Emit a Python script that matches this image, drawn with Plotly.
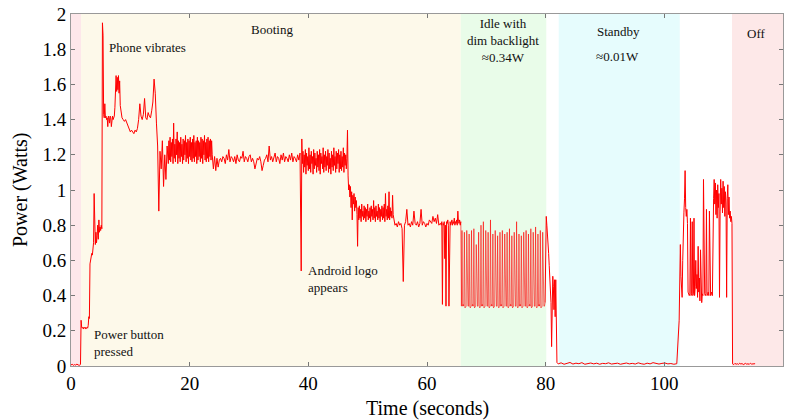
import numpy as np
import plotly.graph_objects as go

# ---------------------------------------------------------------------------
# Power trace of a phone going through a boot / idle / standby / off cycle.
# Each phase is logged on its own uniform grid: (start s, spacing s, watts)
# ---------------------------------------------------------------------------
off_before = [0.006, 0.010, 0.004, 0.008, 0.005, 0.011, 0.006, 0.004, 0.009]

power_button = [0.26, 0.22, 0.215, 0.22, 0.21, 0.22, 0.215, 0.22, 0.21, 0.22,
                0.22, 0.215, 0.23, 0.28, 0.27, 0.58, 0.60, 0.61, 0.64, 0.63,
                0.68, 0.70, 0.98, 0.72, 0.69, 0.76, 0.70, 0.74, 0.80, 0.72,
                0.83, 0.76, 0.79, 0.77, 0.80, 0.78]

vibrate = [1.95, 1.88, 1.43, 1.41, 1.49, 1.41, 1.42, 1.40, 1.41, 1.36,
           1.42, 1.41, 1.38, 1.42, 1.41, 1.36, 1.41, 1.42, 1.40, 1.41,
           1.42, 1.47, 1.58, 1.65, 1.56, 1.64, 1.57, 1.65, 1.55, 1.62,
           1.48, 1.45]

early_boot = [1.41, 1.40, 1.39, 1.40, 1.38, 1.37, 1.34, 1.33, 1.34, 1.33,
              1.32, 1.34, 1.33, 1.35, 1.40, 1.49, 1.42, 1.40, 1.43, 1.52,
              1.41, 1.40, 1.44, 1.42, 1.41, 1.45, 1.50, 1.63, 1.55, 1.38,
              1.25, 0.88, 1.22, 1.12, 1.28, 1.02, 1.20, 1.06, 1.25, 1.15]

boot_band = [1.28, 1.17, 1.30, 1.16, 1.27, 1.19, 1.29, 1.15, 1.38, 1.18,
             1.26, 1.16, 1.29, 1.20, 1.33, 1.15, 1.28, 1.18, 1.27, 1.16,
             1.30, 1.19, 1.26, 1.15, 1.29, 1.17, 1.28, 1.20, 1.31, 1.16,
             1.27, 1.18, 1.29, 1.15, 1.28, 1.19, 1.30, 1.17, 1.27, 1.16,
             1.29, 1.18, 1.31, 1.16, 1.27, 1.19, 1.28, 1.15, 1.30, 1.17,
             1.28, 1.19, 1.27, 1.16, 1.30, 1.18, 1.29, 1.15, 1.28, 1.20,
             1.31, 1.17, 1.27, 1.16, 1.29, 1.18, 1.30, 1.16, 1.28, 1.19,
             1.29, 1.17, 1.28]

settle = [1.20, 1.12, 1.19, 1.11, 1.18, 1.13, 1.17,
          1.18, 1.16, 1.19, 1.18, 1.15, 1.20, 1.17, 1.23, 1.16, 1.19,
          1.18, 1.16, 1.19, 1.15, 1.20, 1.17, 1.16, 1.19, 1.18, 1.22,
          1.16, 1.19, 1.18, 1.16, 1.19, 1.20, 1.16, 1.18,
          1.16, 1.12, 1.15, 1.18, 1.17, 1.19, 1.16, 1.11, 1.14, 1.17,
          1.18, 1.20, 1.16, 1.25, 1.17, 1.19, 1.16, 1.18, 1.21, 1.16,
          1.19, 1.18, 1.15, 1.20, 1.17, 1.21, 1.16, 1.19, 1.18, 1.16,
          1.20, 1.17, 1.21, 1.16, 1.19, 1.18, 1.16, 1.20, 1.17, 1.21]

logo = [0.54, 1.29,
        1.15, 1.22, 1.10, 1.20, 1.13, 1.23, 1.09, 1.21, 1.14, 1.19,
        1.11, 1.24, 1.12, 1.20, 1.10, 1.22, 1.15, 1.19, 1.09, 1.23,
        1.12, 1.21, 1.14, 1.18, 1.10, 1.22, 1.13, 1.20, 1.11, 1.23,
        1.09, 1.21, 1.15, 1.19, 1.12, 1.24, 1.10, 1.20, 1.13, 1.22,
        1.11, 1.19, 1.14, 1.23, 1.10, 1.21, 1.12, 1.18, 1.09, 1.22,
        1.13, 1.20, 1.11, 1.24, 1.14, 1.19, 1.10, 1.22, 1.12, 1.21,
        1.15, 1.23, 1.10, 1.20, 1.12, 1.22, 1.11, 1.19, 1.13, 1.24,
        1.10, 1.21, 1.14, 1.20, 1.12, 1.18, 1.34]

boot_step = [1.08, 1.00, 1.03, 0.96, 1.02, 0.90, 0.99, 0.83, 0.97, 0.92,
             0.98, 0.88, 0.96, 0.90, 0.94, 0.86, 0.68]

boot_mid = [0.90, 0.83, 0.91, 0.84, 0.89, 0.82, 0.92, 0.85, 0.88, 0.83,
            0.91, 0.84, 0.90, 0.82, 0.89, 0.85, 0.92, 0.83, 0.88, 0.84,
            0.90, 0.82, 0.91, 0.85, 0.89, 0.83, 0.94, 0.84, 0.90, 0.82,
            0.91, 0.85, 0.88, 0.83, 0.92, 0.84, 0.90, 0.82, 0.89, 0.85,
            0.91, 0.83, 0.90, 0.84, 0.92, 0.82, 0.98, 0.85, 0.89, 0.83,
            0.91, 0.84, 0.99, 0.83, 0.90, 0.85, 0.88, 0.84, 0.97, 0.86]

boot_late = [0.83, 0.80, 0.81, 0.79, 0.82, 0.80, 0.81, 0.78, 0.48, 0.80,
             0.82, 0.89, 0.80, 0.81, 0.79, 0.82, 0.80, 0.88, 0.81, 0.80,
             0.82, 0.79, 0.81, 0.89, 0.80, 0.82, 0.81, 0.79, 0.81, 0.80,
             0.83, 0.82, 0.81, 0.85, 0.82, 0.84, 0.81, 0.86, 0.80, 0.81]

pre_idle = [0.81, 0.80, 0.82, 0.35, 0.81, 0.80, 0.82, 0.61, 0.80, 0.34,
            0.82, 0.81, 0.83, 0.80, 0.34, 0.81, 0.82, 0.80, 0.81, 0.83,
            0.80, 0.82, 0.81, 0.84, 0.80, 0.82, 0.81, 0.83, 0.80, 0.88,
            0.82, 0.81, 0.83, 0.80, 0.82]

idle = [0.34, 0.77, 0.34, 0.35, 0.34, 0.76, 0.33, 0.34,
        0.34, 0.77, 0.35, 0.34, 0.34, 0.75, 0.34, 0.33,
        0.34, 0.77, 0.34, 0.35, 0.34, 0.78, 0.33, 0.34,
        0.34, 0.69, 0.35, 0.34, 0.34, 0.76, 0.34, 0.33,
        0.34, 0.80, 0.34, 0.35, 0.34, 0.82, 0.33, 0.34,
        0.34, 0.77, 0.35, 0.34, 0.34, 0.76, 0.34, 0.33,
        0.34, 0.83, 0.34, 0.35, 0.34, 0.75, 0.33, 0.34,
        0.34, 0.77, 0.35, 0.34, 0.34, 0.74, 0.34, 0.33,
        0.34, 0.76, 0.34, 0.35, 0.34, 0.77, 0.33, 0.34,
        0.34, 0.75, 0.35, 0.34, 0.34, 0.76, 0.34, 0.33,
        0.34, 0.78, 0.34, 0.35, 0.34, 0.74, 0.33, 0.34,
        0.34, 0.76, 0.35, 0.34, 0.34, 0.82, 0.34, 0.33,
        0.34, 0.75, 0.34, 0.35, 0.34, 0.74, 0.33, 0.34,
        0.34, 0.76, 0.35, 0.34, 0.34, 0.77, 0.34, 0.33,
        0.34, 0.75, 0.34, 0.35, 0.34, 0.78, 0.33, 0.34,
        0.34, 0.76, 0.35, 0.34, 0.34, 0.79, 0.34, 0.33,
        0.34, 0.75, 0.34, 0.35, 0.34, 0.77, 0.33, 0.34,
        0.34, 0.76, 0.35, 0.34, 0.34]

wind_down = [0.36, 0.74, 0.85, 0.80, 0.76, 0.70, 0.64, 0.57, 0.50, 0.42,
             0.36, 0.11, 0.42, 0.51, 0.45, 0.32, 0.49, 0.28, 0.49, 0.12,
             0.02, 0.015]

standby = [0.012, 0.018, 0.010, 0.015, 0.020, 0.011, 0.016, 0.013, 0.019,
           0.010, 0.014, 0.017, 0.012, 0.016, 0.010, 0.015, 0.013, 0.018,
           0.011, 0.014, 0.016, 0.010, 0.013, 0.017, 0.012, 0.015, 0.011,
           0.018, 0.013, 0.010, 0.016, 0.012, 0.019, 0.014, 0.011, 0.015,
           0.017, 0.012, 0.014, 0.010, 0.013]

wake = [0.26, 0.45, 0.69, 0.51, 0.42, 0.39, 0.60, 0.82, 0.87, 0.95,
        1.11, 0.90, 0.85, 0.89, 0.81, 0.42, 0.41, 0.40, 0.41, 0.84,
        0.40, 0.41, 0.82, 0.40, 0.41, 0.84, 0.40, 0.45, 0.60, 0.44,
        0.52, 0.39, 0.68, 0.42, 0.50, 0.37, 0.66, 0.45, 0.36, 0.41,
        0.40, 1.06, 0.42, 0.41, 0.40, 0.41, 0.89, 0.40, 0.41, 0.42,
        0.40, 0.88, 0.41, 0.40, 0.41, 0.42, 0.40, 0.81, 0.95, 1.06,
        0.92, 1.04, 0.86, 1.00, 0.84, 1.03, 0.90, 0.98, 0.39, 0.88,
        1.06, 0.92, 1.01, 0.87, 1.05, 0.90, 1.02, 0.85, 0.99, 0.92,
        0.39, 0.95, 1.03, 0.86, 0.96, 0.84, 0.88, 0.82, 0.85, 0.81]

off_after = [0.012, 0.008, 0.015, 0.010, 0.013, 0.009, 0.016, 0.011, 0.014,
             0.008, 0.012, 0.015, 0.010, 0.013, 0.009, 0.016, 0.011, 0.012,
             0.010, 0.013]

segments = [
    (0.0, 0.2, off_before),
    (1.7, 0.1, power_button),
    (5.3, 0.1, vibrate),
    (8.6, 0.2, early_boot),
    (16.5, 0.1, boot_band),
    (23.8, 0.2, settle),
    (38.8, 0.1, logo),
    (46.7, 0.1, boot_step),
    (48.4, 0.1, boot_mid),
    (54.4, 0.2, boot_late),
    (62.3, 0.1, pre_idle),
    (65.8, 0.1, idle),
    (79.9, 0.1, wind_down),
    (82.1, 0.5, standby),
    (102.5, 0.1, wake),
    (111.5, 0.2, off_after),
]

# Phase spans along the time axis (seconds)
phase_start = [0.0, 1.7, 65.7, 82.2, 111.4]
phase_end = [1.7, 65.7, 80.1, 102.6, 120.0]
phase_fill = ["#fde7ea", "#fdf9ea", "#e9fce9", "#e6fcfd", "#fde8e8"]

FONT = "Liberation Serif, Times New Roman, serif"
RED = "#ff0000"

# Assemble the trace. The idle burst pattern (very short pulses) is drawn
# with a finer pen, so the main line breaks around it and the fine trace
# joins its neighbours on both sides.
time_s, power_w = [], []
idle_t, idle_p = [], []
after_idle = False
for start, spacing, readings in segments:
    ts = list(np.round(start + spacing * np.arange(len(readings)), 2))
    if readings is idle:
        idle_t = [time_s[-1]] + ts
        idle_p = [power_w[-1]] + list(readings)
        time_s.append(None)
        power_w.append(None)
        after_idle = True
        continue
    if after_idle:
        idle_t.append(ts[0])
        idle_p.append(readings[0])
        after_idle = False
    time_s.extend(ts)
    power_w.extend(readings)

fig = go.Figure()

for x0, x1, col in zip(phase_start, phase_end, phase_fill):
    fig.add_shape(type="rect", xref="x", yref="y", x0=x0, x1=x1, y0=0, y1=2,
                  fillcolor=col, line_width=0, layer="below")

fig.add_trace(go.Scatter(x=time_s, y=power_w, mode="lines",
                         line=dict(color=RED, width=1), connectgaps=False,
                         showlegend=False, hoverinfo="x+y"))
fig.add_trace(go.Scatter(x=idle_t, y=idle_p, mode="lines",
                         line=dict(color=RED, width=0.6),
                         showlegend=False, hoverinfo="x+y"))

notes = [
    ("Booting", 33.9, 1.91, "center"),
    ("Phone vibrates", 6.1, 1.807, "left"),
    ("Power button<br>pressed", 3.5, 0.128, "left"),
    ("Android logo<br>appears", 39.6, 0.494, "left"),
    ("Idle with<br>dim backlight<br>≈0.34W", 72.8, 1.85, "center"),
    ("Standby", 92.2, 1.903, "center"),
    ("≈0.01W", 92.1, 1.761, "center"),
    ("Off", 115.5, 1.89, "center"),
]
for text, x, y, anchor in notes:
    fig.add_annotation(x=x, y=y, text=text, showarrow=False, xanchor=anchor,
                       yanchor="middle", align=anchor,
                       font=dict(family=FONT, size=13, color="#111"))

# Axis titles, placed relative to the plotting area
fig.add_annotation(xref="paper", yref="paper", x=0.5, y=0, yshift=-42,
                   text="Time (seconds)", showarrow=False,
                   xanchor="center", yanchor="middle",
                   font=dict(family=FONT, size=20, color="#000"))
fig.add_annotation(xref="paper", yref="paper", x=0, y=0.5, xshift=-51,
                   text="Power (Watts)", showarrow=False, textangle=-90,
                   xanchor="center", yanchor="middle",
                   font=dict(family=FONT, size=20, color="#000"))

axis_common = dict(
    ticks="inside", ticklen=4, tickcolor="#777", showline=True,
    linecolor="#999", linewidth=1, mirror="ticks", showgrid=False,
    zeroline=False, automargin=False,
    tickfont=dict(family=FONT, size=19, color="#000"),
)

fig.update_xaxes(range=[0, 120], tick0=0, dtick=20, **axis_common)
fig.update_yaxes(range=[0, 2], tick0=0, dtick=0.2, **axis_common)

fig.update_layout(
    width=797, height=420,
    margin=dict(l=71, r=14, t=14, b=54),
    paper_bgcolor="white", plot_bgcolor="white",
    showlegend=False,
)

fig.write_html("out.html")
